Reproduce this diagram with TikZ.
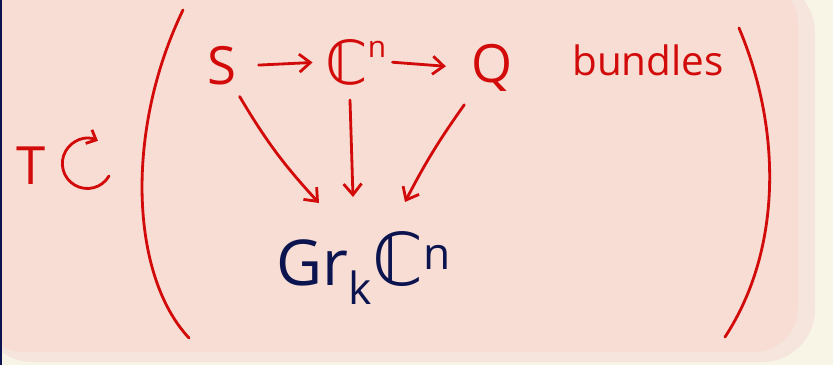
\documentclass[tikz,border=0pt]{standalone}
\usepackage{amsmath,amssymb}
\usepackage{xcolor}
\usepackage{graphicx}
\usepackage{fontspec}
\setmainfont{Open Sans}
\newfontfamily\dsfont{DejaVu Sans}
\usepackage{tikz}
\usetikzlibrary{arrows.meta}
\definecolor{pen}{HTML}{D20A0A}
\definecolor{ink}{HTML}{0C1450}
\definecolor{blush}{HTML}{F7DDD3}
\definecolor{blushedge}{HTML}{F5E5DC}
\definecolor{paper}{HTML}{F8F4E6}
\newcommand{\CC}{{\dsfont\scalebox{1.15}{ℂ}}}

\begin{document}
\begin{tikzpicture}[x=0.02cm,y=-0.02cm,
  every node/.style={inner sep=1pt,text=pen,font=\fontsize{30}{34}\selectfont},
  every path/.style={line width=1.6pt,line cap=round},
  arr/.style={draw=pen,-{Straight Barb[length=2.2mm,width=3.6mm]}},
]
\useasboundingbox(0,0) rectangle (833,365);
\fill[paper](0,0) rectangle (833,365);
\fill[blushedge,rounded corners=30](-20,-20) rectangle (815,362);
\fill[blush,rounded corners=25](-20,-20) rectangle (798,352);
\fill[ink](0,0) rectangle (2,365);
% parentheses
\draw[pen](183,10) .. controls (125,130) and (130,275) .. (189,338);
\draw[pen](739,28) .. controls (782,130) and (782,250) .. (725,337);
% torus action
\node(T) at(31,166){T};
\draw[pen,-{Straight Barb[length=1.6mm,width=3mm]}](109,176) arc[start angle=30,end angle=295,radius=25];
% bundles
\node(S) at(222,66){S};
\node(Cn) at(356,62){\CC\raisebox{15pt}{\fontsize{17}{20}\selectfont n}};
\node(Q) at(492,68){Q};
\node[font=\fontsize{23}{26}\selectfont](bundles) at(648,60){bundles};
\node[text=ink,font=\fontsize{36}{40}\selectfont](Gr) at(364,268){Gr\textsubscript{k}\CC\textsuperscript{n}};
\coordinate(tS) at(319,203); \coordinate(tC) at(353,197); \coordinate(tQ) at(405,202);
\draw[arr,shorten <=0.38cm,shorten >=0.2cm](S.east)--(Cn.west);
\draw[arr,shorten <=0.06cm,shorten >=0.45cm](Cn.east)--(Q.west);
\draw[arr](S.south east) ++(0,8) to[bend right=6] (tS);
\draw[arr](Cn.south) ++(-6,12) -- (tC);
\draw[arr](Q.south west) ++(-4,10) to[bend right=4] (tQ);
\end{tikzpicture}
\end{document}
